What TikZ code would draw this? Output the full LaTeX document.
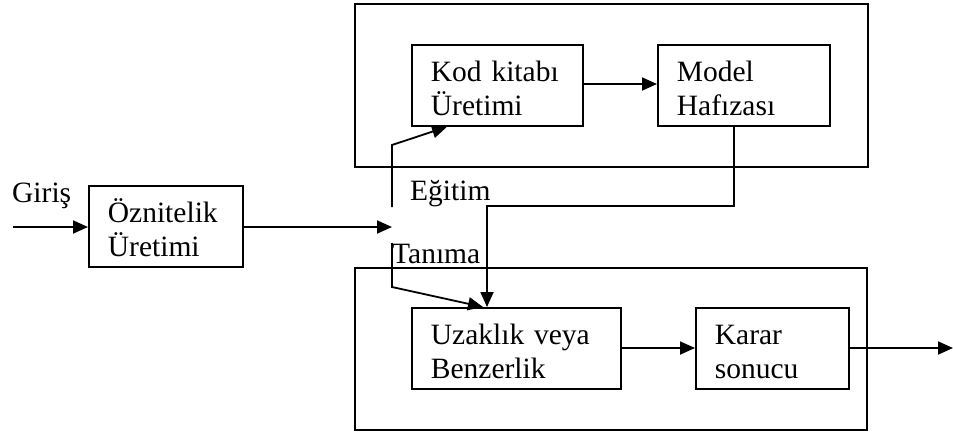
\documentclass[tikz,border=0pt]{standalone}
\usepackage{fontspec}
\setmainfont{Liberation Serif}
\usetikzlibrary{arrows.meta,calc}

\tikzset{
  lbl/.style={font=\fontsize{29.5bp}{34bp}\selectfont, inner sep=0pt},
  stagebox/.style={draw, line width=1.8bp, anchor=north west, align=left,
    inner xsep=19bp, inner ysep=0pt, text height=37bp, text depth=44bp,
    font=\fontsize{29.5bp}{34bp}\selectfont},
  frame/.style={draw, line width=1.8bp, anchor=north west, inner sep=0pt},
  flow/.style={line width=1.8bp, -{Triangle[length=15bp,width=13bp]}},
  wire/.style={line width=1.8bp}
}

\begin{document}
\begin{tikzpicture}[x=1bp, y=-1bp]
  \useasboundingbox (0,0) rectangle (953,431);

  % training and recognition frames
  \node[frame, minimum width=513bp, minimum height=163bp] (train) at (354,3) {};
  \node[frame, minimum width=512bp, minimum height=162bp] (recog) at (354,267) {};

  % processing stages
  \node[stagebox, text width=116bp] (feat)  at (88,185)  {Öznitelik\\Üretimi};
  \node[stagebox, text width=133bp] (code)  at (411,44)  {Kod kitabı\\Üretimi};
  \node[stagebox, text width=134bp] (model) at (657,44)  {Model\\Hafızası};
  \node[stagebox, text width=171bp] (dist)  at (411,307) {Uzaklık veya\\Benzerlik};
  \node[stagebox, text width=115bp] (dec)   at (695,307) {Karar\\sonucu};

  % labels
  \node[lbl, anchor=base west] (lin)  at (12,202)  {Giriş};
  \node[lbl, anchor=base west] (ltr)  at (410,200) {Eğitim};
  \node[lbl, anchor=base west] (lrec) at (392,263) {Tanıma};

  % switch contacts and free ends
  \coordinate (in)  at (13,227);
  \coordinate (sw)  at (392,227);
  \coordinate (up1) at (392,207);
  \coordinate (up2) at (392,145);
  \coordinate (dn1) at (392,243);
  \coordinate (dn2) at (392,287);
  \coordinate (out) at (953,348);

  % main signal path
  \draw[flow] (in) -- (feat.west |- in);
  \draw[flow] (feat.east |- sw) -- (sw);

  % training branch
  \draw[flow] (up1) -- (up2) -- ($(code.south west)+(36,0)$);
  \draw[flow] (code.east |- 0,84) -- (model.west |- 0,84);

  % model memory feeds the recognition stage
  \draw[flow] ($(model.south west)+(77,0)$) |- (487,206) -- ($(dist.north west)+(76,0)$);

  % recognition branch
  \draw[flow] (dn1) -- (dn2) -- ($(dist.north west)+(72,0)$);
  \draw[flow] (dist.east |- 0,348) -- (dec.west |- 0,348);
  \draw[flow] (dec.east |- out) -- (out);
\end{tikzpicture}
\end{document}
